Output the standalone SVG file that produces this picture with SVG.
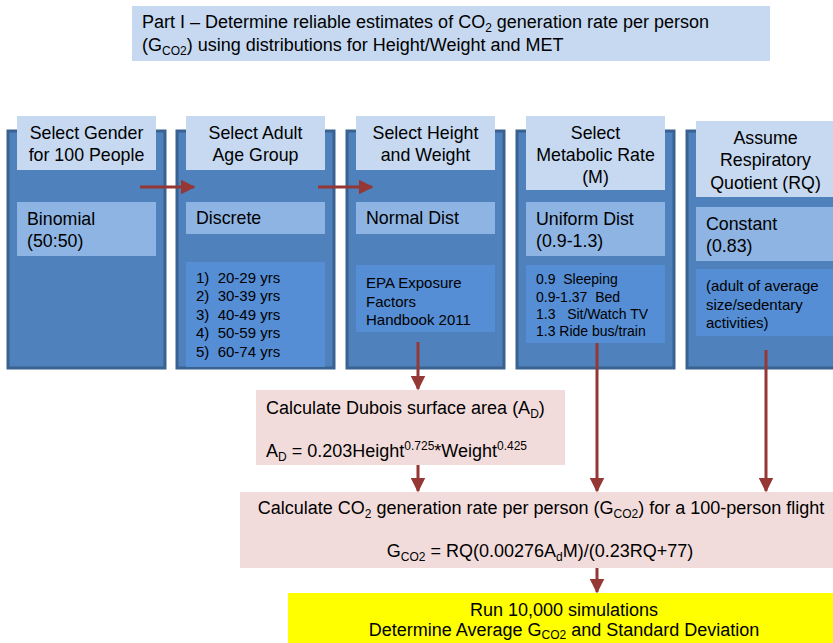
<svg xmlns="http://www.w3.org/2000/svg" width="833" height="643" viewBox="0 0 833 643">
<defs>
<style>
text{font-family:"Liberation Sans",Arial,sans-serif;fill:#000;white-space:pre}
.outer{fill:#4F81BD;stroke:#3A6291;stroke-width:3}
.hdr{fill:#C6D9F1}
.mid{fill:#8EB4E3}
.lst{fill:#558ED5}
.pink{fill:#F2DCDB}
.h{font-size:17.8px;text-anchor:middle}
.m{font-size:17.8px}
.l{font-size:15px}
.s{font-size:14px}
.r{font-size:15px}
.t{font-size:18px}
.c{stroke:#953735;stroke-width:3;fill:none}
</style>
<marker id="ah" viewBox="0 0 10 10" refX="9" refY="5" markerWidth="5" markerHeight="5" orient="auto" markerUnits="strokeWidth">
<path d="M0,0 L10,5 L0,10 z" fill="#953735"/>
</marker>
</defs>
<rect width="833" height="643" fill="#fff"/>

<g id="title">
<rect x="132" y="6" width="638" height="55" fill="#C6D9F1"/>
<text class="t" x="142" y="28">Part I – Determine reliable estimates of CO<tspan font-size="12" dy="4">2</tspan><tspan dy="-4"> generation rate per person</tspan></text>
<text class="t" x="142" y="51">(G<tspan font-size="12" dy="4">CO2</tspan><tspan dy="-4">) using distributions for Height/Weight and MET</tspan></text>
</g>

<g id="col-gender">
<rect class="outer" x="8" y="131" width="157" height="237"/>
<rect class="hdr" x="17" y="116" width="139" height="54"/>
<text class="h" x="86.5" y="139">Select Gender</text>
<text class="h" x="86.5" y="161">for 100 People</text>
<rect class="mid" x="17" y="202" width="139" height="54"/>
<text class="m" x="27" y="225">Binomial</text>
<text class="m" x="27" y="247">(50:50)</text>
</g>

<g id="col-age">
<rect class="outer" x="177" y="131" width="157" height="237"/>
<rect class="hdr" x="186" y="116" width="139" height="54"/>
<text class="h" x="255.5" y="139">Select Adult</text>
<text class="h" x="255.5" y="161">Age Group</text>
<rect class="mid" x="186" y="202" width="139" height="32"/>
<text class="m" x="196" y="224">Discrete</text>
<rect class="lst" x="186" y="262" width="139" height="105"/>
<text class="l" x="196" y="283">1)  20-29 yrs</text>
<text class="l" x="196" y="301">2)  30-39 yrs</text>
<text class="l" x="196" y="320">3)  40-49 yrs</text>
<text class="l" x="196" y="338">4)  50-59 yrs</text>
<text class="l" x="196" y="357">5)  60-74 yrs</text>
</g>

<g id="col-height">
<rect class="outer" x="347" y="131" width="157" height="237"/>
<rect class="hdr" x="356" y="116" width="139" height="54"/>
<text class="h" x="425.5" y="139">Select Height</text>
<text class="h" x="425.5" y="161">and Weight</text>
<rect class="mid" x="356" y="202" width="139" height="32"/>
<text class="m" x="366" y="224">Normal Dist</text>
<rect class="lst" x="356" y="265" width="139" height="67"/>
<text class="l" x="366" y="288">EPA Exposure</text>
<text class="l" x="366" y="307">Factors</text>
<text class="l" x="366" y="325">Handbook 2011</text>
</g>

<g id="col-met">
<rect class="outer" x="517" y="131" width="157" height="237"/>
<rect class="hdr" x="526" y="116" width="139" height="74"/>
<text class="h" x="595.5" y="139">Select</text>
<text class="h" x="595.5" y="161">Metabolic Rate</text>
<text class="h" x="595.5" y="183">(M)</text>
<rect class="mid" x="526" y="202" width="139" height="54"/>
<text class="m" x="536" y="225">Uniform Dist</text>
<text class="m" x="536" y="247">(0.9-1.3)</text>
<rect class="lst" x="526" y="265" width="139" height="78"/>
<text class="s" x="536" y="284">0.9  Sleeping</text>
<text class="s" x="536" y="302">0.9-1.37  Bed</text>
<text class="s" x="536" y="319">1.3   Sit/Watch TV</text>
<text class="s" x="536" y="336">1.3 Ride bus/train</text>
</g>

<g id="col-rq">
<rect class="outer" x="687" y="131" width="160" height="237"/>
<rect class="hdr" x="696" y="121" width="139" height="76"/>
<text class="h" x="765.5" y="144">Assume</text>
<text class="h" x="765.5" y="166">Respiratory</text>
<text class="h" x="765.5" y="189">Quotient (RQ)</text>
<rect class="mid" x="696" y="207" width="139" height="54"/>
<text class="m" x="706" y="230">Constant</text>
<text class="m" x="706" y="252">(0.83)</text>
<rect class="lst" x="696" y="269" width="139" height="67"/>
<text class="r" x="706" y="291">(adult of average</text>
<text class="r" x="706" y="310">size/sedentary</text>
<text class="r" x="706" y="328">activities)</text>
</g>

<g id="dubois">
<rect class="pink" x="256" y="390" width="309" height="75"/>
<text class="t" x="266" y="414">Calculate Dubois surface area (A<tspan font-size="12" dy="4">D</tspan><tspan dy="-4">)</tspan></text>
<text class="t" x="266" y="457">A<tspan font-size="12" dy="4">D</tspan><tspan dy="-4"> = 0.203Height</tspan><tspan font-size="12" dy="-7">0.725</tspan><tspan dy="7">*Weight</tspan><tspan font-size="12" dy="-7">0.425</tspan></text>
</g>

<g id="co2">
<rect class="pink" x="240" y="492" width="600" height="76"/>
<text class="t" x="541" y="514" text-anchor="middle">Calculate CO<tspan font-size="12" dy="4">2</tspan><tspan dy="-4"> generation rate per person (G</tspan><tspan font-size="12" dy="4">CO2</tspan><tspan dy="-4">) for a 100-person flight</tspan></text>
<text class="t" x="540" y="557" text-anchor="middle">G<tspan font-size="12" dy="4">CO2</tspan><tspan dy="-4"> = RQ(0.00276A</tspan><tspan font-size="12" dy="4">d</tspan><tspan dy="-4">M)/(0.23RQ+77)</tspan></text>
</g>

<g id="simulate">
<rect x="288" y="593" width="550" height="55" fill="#FFFF00"/>
<text class="t" x="564" y="616" text-anchor="middle">Run 10,000 simulations</text>
<text class="t" x="564" y="636" text-anchor="middle">Determine Average G<tspan font-size="12" dy="3">CO2</tspan><tspan dy="-3"> and Standard Deviation</tspan></text>
</g>

<g id="connectors">
<line class="c" x1="140" y1="187" x2="194" y2="187" marker-end="url(#ah)"/>
<line class="c" x1="318" y1="187" x2="372" y2="187" marker-end="url(#ah)"/>
<line class="c" x1="418" y1="342" x2="418" y2="389" marker-end="url(#ah)"/>
<line class="c" x1="418" y1="465" x2="418" y2="491" marker-end="url(#ah)"/>
<line class="c" x1="597" y1="343" x2="597" y2="491" marker-end="url(#ah)"/>
<line class="c" x1="766" y1="350" x2="766" y2="491" marker-end="url(#ah)"/>
<line class="c" x1="597" y1="568" x2="597" y2="592" marker-end="url(#ah)"/>
</g>
</svg>
